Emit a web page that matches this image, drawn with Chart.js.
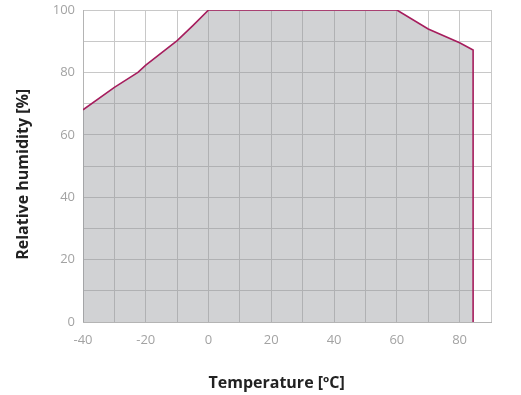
<!DOCTYPE html>
<html>
<head>
<meta charset="utf-8">
<script src="https://cdn.jsdelivr.net/npm/chart.js@4"></script>
<style>
  html, body { margin: 0; padding: 0; background: #fff; }
  #wrap { width: 521px; height: 395px; }
</style>
</head>
<body>
<div id="wrap"><canvas id="rhChart" width="521" height="395"></canvas></div>
<script>
// operating envelope
var temperature = [-40, -30, -22.5, -20, -10, -5, 0, 60, 70, 80, 84.3, 84.3];
var humidity    = [68, 75.2, 80, 82.3, 90.2, 95, 100, 100, 93.9, 89.5, 87.2, 0];
var xLabels = [-40, -20, 0, 20, 40, 60, 80];
var yLabels = [0, 20, 40, 60, 80, 100];

var points = [];
for (var i = 0; i < temperature.length; i++) {
    points.push({ x: temperature[i], y: humidity[i] });
}

var ctx = document.getElementById("rhChart");
var rhChart = new Chart(ctx, {
    type: 'scatter',
    data: {
        datasets: [{
            data: points,
            showLine: true,
            fill: 'origin',
            backgroundColor: "rgba(140,142,147,0.4)",
            borderColor: "#a61d5d",
            borderWidth: 1.6,
            pointRadius: 0,
            tension: 0
        }]
    },
    options: {
        responsive: false,
        animation: false,
        layout: { padding: { left: 0, right: 30, top: 10, bottom: 0 } },
        plugins: { legend: { display: false }, tooltip: { enabled: false } },
        scales: {
            x: {
                type: 'linear',
                min: -40,
                max: 90,
                afterFit: function(scale) { scale.height = 73; },
                grid: { color: "#c8c8c8", lineWidth: 1, drawTicks: false },
                border: { color: "#b4b4b4" },
                ticks: {
                    stepSize: 10,
                    padding: 10,
                    color: "#a3a3a3",
                    font: { family: "Open Sans", size: 13 },
                    callback: function(v) { return xLabels.indexOf(v) >= 0 ? v : ''; }
                },
                title: {
                    display: true,
                    text: "Temperature [ºC]     ",
                    color: "#222",
                    font: { family: "Open Sans", size: 16, weight: 'bold' },
                    padding: { top: 16, bottom: 2 }
                }
            },
            y: {
                min: 0,
                max: 100,
                afterFit: function(scale) {
                    scale.width = 83;
                    scale.paddingTop = 0;
                },
                grid: { color: "#c8c8c8", lineWidth: 1, drawTicks: false },
                border: { color: "#b4b4b4" },
                ticks: {
                    stepSize: 10,
                    padding: 8,
                    color: "#a3a3a3",
                    font: { family: "Open Sans", size: 13 },
                    callback: function(v) { return yLabels.indexOf(v) >= 0 ? v : ''; }
                },
                title: {
                    display: true,
                    text: "Relative humidity [%]    ",
                    color: "#222",
                    font: { family: "Open Sans", size: 16, weight: 'bold' },
                    padding: { top: 14, bottom: 10 }
                }
            }
        }
    }
});
</script>
</body>
</html>
